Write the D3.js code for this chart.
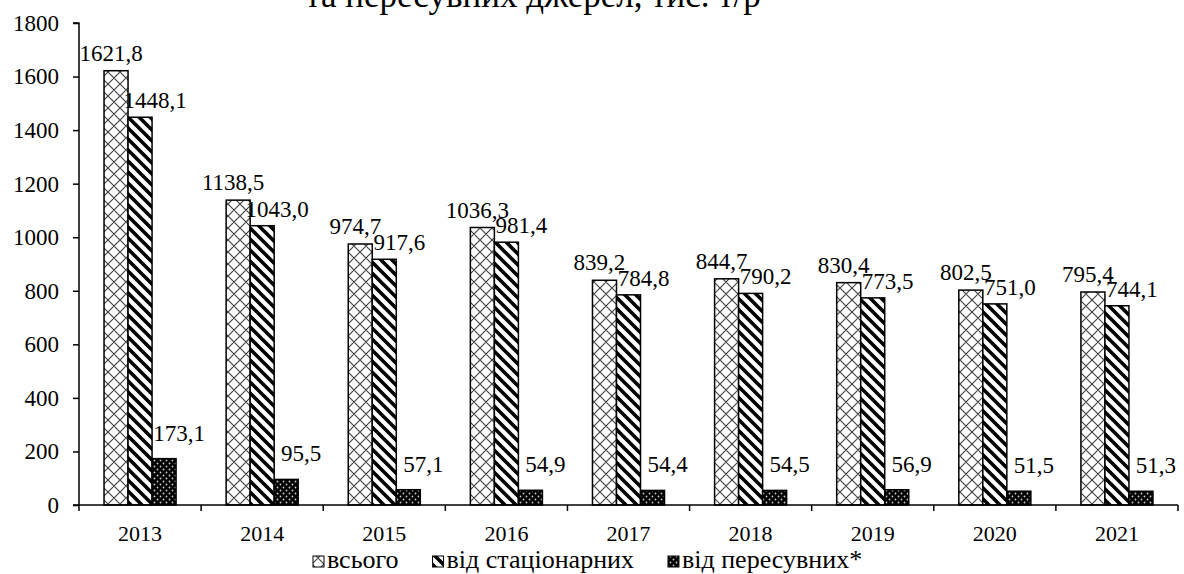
<!DOCTYPE html>
<html>
<head>
<meta charset="utf-8">
<script src="https://cdn.jsdelivr.net/npm/d3@7"></script>
<style>
  html, body { margin: 0; padding: 0; background: #fff; }
  svg text { font-family: "Liberation Serif", "DejaVu Serif", serif !important; fill: #000; }
</style>
</head>
<body>
<svg id="chart" width="1184" height="574"></svg>
<script>
const years = ["2013","2014","2015","2016","2017","2018","2019","2020","2021"];
const seriesNames = ["всього", "від стаціонарних", "від пересувних*"];
const totalValues = [1621.8, 1138.5, 974.7, 1036.3, 839.2, 844.7, 830.4, 802.5, 795.4];
const stationaryValues = [1448.1, 1043.0, 917.6, 981.4, 784.8, 790.2, 773.5, 751.0, 744.1];
const mobileValues = [173.1, 95.5, 57.1, 54.9, 54.4, 54.5, 56.9, 51.5, 51.3];
const yTicks = [0, 200, 400, 600, 800, 1000, 1200, 1400, 1600, 1800];
const titleText = "та пересувних джерел, тис. т/р";

(function () {
const seriesValues = [totalValues, stationaryValues, mobileValues];
const svg = d3.select("#chart");
const defs = svg.append("defs");

// Patterns
const p0 = defs.append("pattern").attr("id", "pat0").attr("patternUnits", "userSpaceOnUse")
  .attr("width", 12).attr("height", 12);
p0.append("rect").attr("width", 12).attr("height", 12).attr("fill", "#fff");
p0.append("path").attr("d", "M0,0 L12,12 M12,0 L0,12 M-6,6 L6,-6 M6,18 L18,6 M-6,6 L6,18 M6,-6 L18,6")
  .attr("stroke", "#444").attr("stroke-width", 1.2).attr("fill", "none");

const p1 = defs.append("pattern").attr("id", "pat1").attr("patternUnits", "userSpaceOnUse")
  .attr("width", 11).attr("height", 11);
p1.append("rect").attr("width", 11).attr("height", 11).attr("fill", "#fff");
p1.append("path").attr("d", "M-3,-3 L14,14 M-14,-3 L3,14 M8,-3 L25,14")
  .attr("stroke", "#000").attr("stroke-width", 3.6).attr("fill", "none");

const p2 = defs.append("pattern").attr("id", "pat2").attr("patternUnits", "userSpaceOnUse")
  .attr("width", 6).attr("height", 6);
p2.append("rect").attr("width", 6).attr("height", 6).attr("fill", "#000");
p2.append("circle").attr("cx", 1.5).attr("cy", 1.5).attr("r", 0.9).attr("fill", "#ccc");
p2.append("circle").attr("cx", 4.5).attr("cy", 4.5).attr("r", 0.9).attr("fill", "#ccc");

const fills = ["url(#pat0)", "url(#pat1)", "url(#pat2)"];

const mLeft = 79, mRight = 1178, mTop = 23, mBottom = 505;
const x = d3.scaleBand().domain(years).range([mLeft, mRight]).paddingInner(0).paddingOuter(0);
const bandW = x.bandwidth();
const groupW = bandW * 0.59;
const x1 = d3.scaleBand().domain(d3.range(3)).range([(bandW - groupW) / 2, (bandW + groupW) / 2]);
const y = d3.scaleLinear().domain([0, 1800]).range([mBottom, mTop]);

// Title (clipped at top, as in the reference)
svg.append("text").attr("x", 533).attr("y", 7).attr("text-anchor", "middle")
  .attr("font-size", 35).text(titleText);

// Bars
const g = svg.append("g");
seriesValues.forEach((vals, si) => {
  g.selectAll(".bar" + si).data(vals).enter().append("rect")
    .attr("x", (d, i) => x(years[i]) + x1(si))
    .attr("y", d => y(d))
    .attr("width", x1.bandwidth())
    .attr("height", d => y(0) - y(d))
    .attr("fill", fills[si])
    .attr("stroke", "#000").attr("stroke-width", 1.5);
});

// Data labels
const fmt = v => d3.format(".1f")(v).replace(".", ",");
const labelDx = [-5, 15, 15];
const labelDy = [-10, -9, -18];
seriesValues.forEach((vals, si) => {
  g.selectAll(".lab" + si).data(vals).enter().append("text")
    .attr("x", (d, i) => x(years[i]) + x1(si) + x1.bandwidth() / 2 + labelDx[si])
    .attr("y", d => y(d) + labelDy[si])
    .attr("text-anchor", "middle").attr("font-size", 23)
    .text(d => fmt(d));
});

// Y axis
const yAxis = d3.axisLeft(y).tickValues(yTicks).tickSize(6).tickPadding(14).tickFormat(d3.format("d"));
const ya = svg.append("g").attr("transform", `translate(${mLeft},0)`).call(yAxis);
ya.select(".domain").attr("stroke", "#000").attr("stroke-width", 1.5).attr("d", `M-6,${mTop}H0V${mBottom}H-6`);
ya.selectAll(".tick line").attr("stroke", "#000").attr("stroke-width", 1.5);
ya.selectAll(".tick text").attr("font-size", 23);

// X axis
const xa = svg.append("g").attr("transform", `translate(0,${mBottom})`);
xa.append("line").attr("x1", mLeft).attr("x2", mRight).attr("y1", 0).attr("y2", 0)
  .attr("stroke", "#000").attr("stroke-width", 1.5);
const bounds = years.map(yv => x(yv)).concat([mRight]);
xa.selectAll(".xt").data(bounds).enter().append("line")
  .attr("x1", d => d).attr("x2", d => d).attr("y1", 0).attr("y2", 6)
  .attr("stroke", "#000").attr("stroke-width", 1.5);
xa.selectAll(".xl").data(years).enter().append("text")
  .attr("x", d => x(d) + bandW / 2).attr("y", 36)
  .attr("text-anchor", "middle").attr("font-size", 22).text(d => d);

// Legend (laid out from measured text widths)
const lg = svg.append("g");
let cx = 313;
seriesNames.forEach((name, si) => {
  lg.append("rect").attr("x", cx).attr("y", 556).attr("width", 11).attr("height", 11)
    .attr("fill", fills[si]).attr("stroke", "#000").attr("stroke-width", 1);
  const t = lg.append("text").attr("x", cx + 14).attr("y", 568)
    .attr("font-size", 26).text(name);
  cx += 14 + t.node().getComputedTextLength() + 34;
});
})();
</script>
</body>
</html>
